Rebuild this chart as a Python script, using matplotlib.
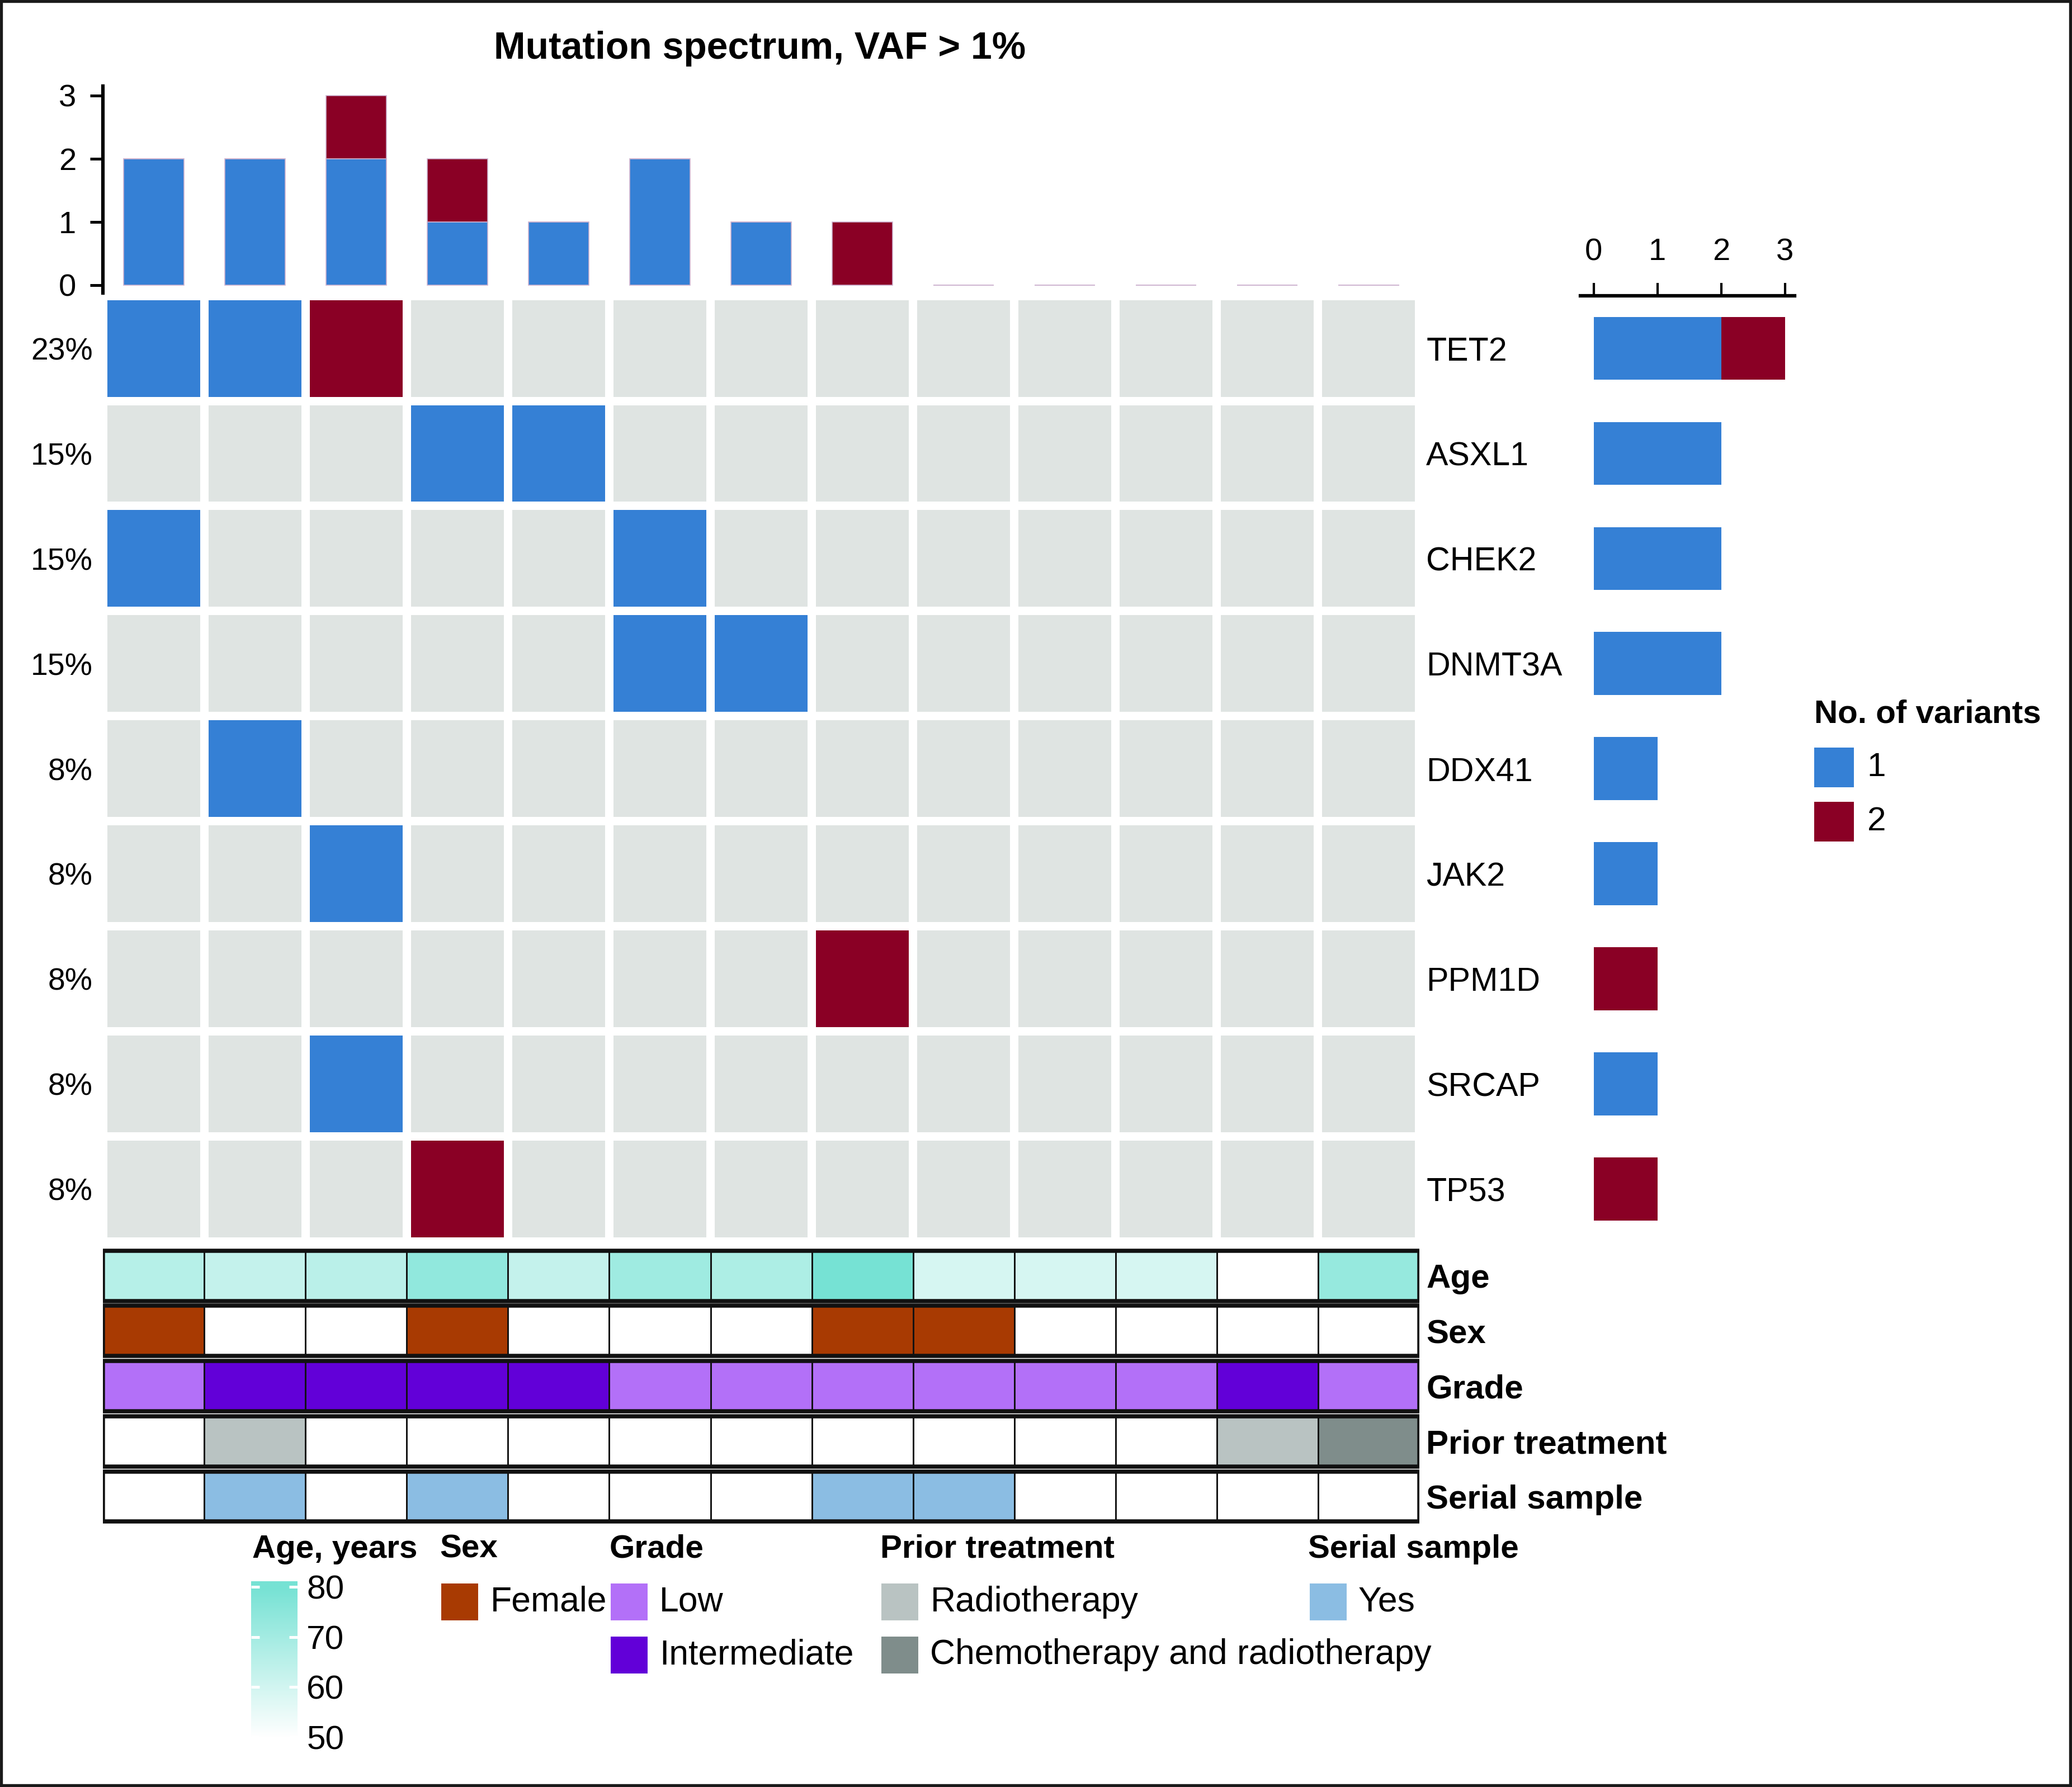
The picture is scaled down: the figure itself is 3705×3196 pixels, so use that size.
import matplotlib.pyplot as plt
import numpy as np
from matplotlib.colors import LinearSegmentedColormap, Normalize
from matplotlib.patches import Rectangle

plt.rcParams['font.family'] = ['Liberation Sans', 'DejaVu Sans']

# ---- data ----
genes = ['TET2', 'ASXL1', 'CHEK2', 'DNMT3A', 'DDX41', 'JAK2', 'PPM1D', 'SRCAP', 'TP53']
# 0 = no variant, 1 = one variant, 2 = two variants (one row per gene, one column per sample)
mutations = np.array([
    [1, 1, 2, 0, 0, 0, 0, 0, 0, 0, 0, 0, 0],
    [0, 0, 0, 1, 1, 0, 0, 0, 0, 0, 0, 0, 0],
    [1, 0, 0, 0, 0, 1, 0, 0, 0, 0, 0, 0, 0],
    [0, 0, 0, 0, 0, 1, 1, 0, 0, 0, 0, 0, 0],
    [0, 1, 0, 0, 0, 0, 0, 0, 0, 0, 0, 0, 0],
    [0, 0, 1, 0, 0, 0, 0, 0, 0, 0, 0, 0, 0],
    [0, 0, 0, 0, 0, 0, 0, 2, 0, 0, 0, 0, 0],
    [0, 0, 1, 0, 0, 0, 0, 0, 0, 0, 0, 0, 0],
    [0, 0, 0, 2, 0, 0, 0, 0, 0, 0, 0, 0, 0],
])
ages = [66, 63, 65, 74, 63, 71, 68, 80, 59, 59, 59, 50, 73]
sex = ['Female', 'Male', 'Male', 'Female', 'Male', 'Male', 'Male',
       'Female', 'Female', 'Male', 'Male', 'Male', 'Male']
grade = ['Low', 'Intermediate', 'Intermediate', 'Intermediate', 'Intermediate',
         'Low', 'Low', 'Low', 'Low', 'Low', 'Low', 'Intermediate', 'Low']
prior = ['None', 'Radiotherapy', 'None', 'None', 'None', 'None', 'None', 'None',
         'None', 'None', 'None', 'Radiotherapy', 'Chemotherapy and radiotherapy']
serial = ['No', 'Yes', 'No', 'Yes', 'No', 'No', 'No', 'Yes', 'Yes', 'No', 'No', 'No', 'No']
age_ticks = [50, 60, 70, 80]

# ---- colours ----
BLUE = '#3580d5'
RED = '#8a0025'
GREY = '#dfe4e2'
variant_colors = {0: GREY, 1: BLUE, 2: RED}
sex_colors = {'Female': '#a83a02', 'Male': 'white'}
grade_colors = {'Low': '#b370f8', 'Intermediate': '#6200d8'}
prior_colors = {'None': 'white', 'Radiotherapy': '#b9c3c2',
                'Chemotherapy and radiotherapy': '#7f8d8b'}
serial_colors = {'Yes': '#8bbde3', 'No': 'white'}
age_cmap = LinearSegmentedColormap.from_list('age', ['#ffffff', '#76e2d4'])
age_norm = Normalize(50, 80)

n_genes, n_samples = mutations.shape
blue_per_sample = (mutations == 1).sum(axis=0)
red_per_sample = (mutations == 2).sum(axis=0)
blue_per_gene = (mutations == 1).sum(axis=1)
red_per_gene = (mutations == 2).sum(axis=1)
pct = np.round(100 * (mutations > 0).sum(axis=1) / n_samples).astype(int)

# layout grid (reference coordinates)
W, H = 1568, 1353


def box(x0, y0, x1, y1):
    return [x0 / W, 1 - y1 / H, (x1 - x0) / W, (y1 - y0) / H]


def fx(x):
    return x / W


def fy(y):
    return 1 - y / H


fig = plt.figure(figsize=(3705 / 300, 3196 / 300), dpi=300)

fig.text(fx(575), fy(37), 'Mutation spectrum, VAF > 1%', ha='center', va='center',
         fontsize=16.3, weight='bold')

# ---- top bar chart ----
ax_top = fig.add_axes(box(78, 65, 1074, 222))
xs = np.arange(n_samples)
ax_top.bar(xs, blue_per_sample, width=0.6, color=BLUE, edgecolor='#cdb3cf', linewidth=0.4)
ax_top.bar(xs, red_per_sample, bottom=blue_per_sample, width=0.6, color=RED,
           edgecolor='#cdb3cf', linewidth=0.4)
ax_top.set_xlim(-0.5, n_samples - 0.5)
ax_top.set_ylim(-0.13, 3.15)
for s in ['top', 'right', 'bottom']:
    ax_top.spines[s].set_visible(False)
ax_top.spines['left'].set_linewidth(1.5)
ax_top.set_xticks([])
ax_top.set_yticks([0, 1, 2, 3])
ax_top.tick_params(axis='y', length=5.5, width=1.2, pad=6, labelsize=13.5)

# ---- oncoprint grid ----
ax_hm = fig.add_axes(box(78, 224, 1074, 940))
for i in range(n_genes):
    for j in range(n_samples):
        ax_hm.add_patch(Rectangle((j - 0.46, i - 0.46), 0.92, 0.92,
                                  color=variant_colors[mutations[i, j]], lw=0))
    ax_hm.annotate(f'{pct[i]}%', (0, i), xycoords=('axes fraction', 'data'),
                   xytext=(-4.5, -1.5), textcoords='offset points', ha='right', va='center',
                   fontsize=13.3)
    ax_hm.annotate(genes[i], (1, i), xycoords=('axes fraction', 'data'),
                   xytext=(3, -1.5), textcoords='offset points', ha='left', va='center',
                   fontsize=14.2)
ax_hm.set_xlim(-0.5, n_samples - 0.5)
ax_hm.set_ylim(n_genes - 0.5, -0.5)
ax_hm.axis('off')

# ---- right bar chart ----
ax_r = fig.add_axes(box(1196, 224, 1358, 940))
ys = np.arange(n_genes)
ax_r.barh(ys, blue_per_gene, height=0.6, color=BLUE)
ax_r.barh(ys, red_per_gene, left=blue_per_gene, height=0.6, color=RED)
ax_r.set_xlim(-0.21, 3.15)
ax_r.set_ylim(n_genes - 0.5, -0.5)
for s in ['bottom', 'right', 'left']:
    ax_r.spines[s].set_visible(False)
ax_r.spines['top'].set_linewidth(1.5)
ax_r.xaxis.tick_top()
ax_r.set_xticks([0, 1, 2, 3])
ax_r.set_yticks([])
ax_r.tick_params(axis='x', length=5.5, width=1.0, pad=7, labelsize=13.5)

fig.text(fx(1373), fy(541), 'No. of variants', ha='left', va='center',
         fontsize=14, weight='bold')
for k, (lab, col) in enumerate([('1', BLUE), ('2', RED)]):
    yc = 581 + 41 * k
    fig.add_artist(Rectangle((fx(1373), fy(yc + 15)), 30 / W, 30 / H,
                             transform=fig.transFigure, color=col, lw=0))
    fig.text(fx(1413), fy(yc), lab, ha='left', va='center', fontsize=14.5)

# ---- annotation tracks ----
tracks = [
    ('Age', [age_cmap(age_norm(a)) for a in ages]),
    ('Sex', [sex_colors[v] for v in sex]),
    ('Grade', [grade_colors[v] for v in grade]),
    ('Prior treatment', [prior_colors[v] for v in prior]),
    ('Serial sample', [serial_colors[v] for v in serial]),
]
ax_tr = fig.add_axes(box(78, 945, 1074, 1154))
for i, (name, cols) in enumerate(tracks):
    top = i + 0.045
    for j, c in enumerate(cols):
        ax_tr.add_patch(Rectangle((j - 0.5, top), 1, 0.91, facecolor=c,
                                  edgecolor='#111111', lw=0.7))
    ax_tr.add_patch(Rectangle((-0.5, top), n_samples, 0.91, fill=False,
                              edgecolor='#111111', lw=1.8))
    ax_tr.annotate(name, (1, i + 0.5), xycoords=('axes fraction', 'data'),
                   xytext=(3, -1.5), textcoords='offset points', ha='left', va='center',
                   fontsize=14.4, weight='bold')
ax_tr.set_xlim(-0.5, n_samples - 0.5)
ax_tr.set_ylim(len(tracks), 0)
ax_tr.axis('off')

# ---- legends ----
fig.text(fx(191), fy(1173), 'Age, years', ha='left', va='center', fontsize=14, weight='bold')
ax_cb = fig.add_axes(box(190, 1197, 225, 1321))
grad = np.linspace(48.5, 81.2, 256).reshape(-1, 1)
ax_cb.imshow(grad, cmap=age_cmap, norm=age_norm, aspect='auto', origin='lower',
             extent=[0, 1, 48.5, 81.2])
ax_cb.set_xticks([])
ax_cb.set_yticks(age_ticks)
ax_cb.tick_params(axis='y', left=True, right=True, labelleft=False, labelright=True,
                  direction='in', color='white', length=3.5, width=1.2, pad=4, labelsize=14.5)
for s in ax_cb.spines.values():
    s.set_visible(False)


def legend_block(x, title, items):
    fig.text(fx(x), fy(1173), title, ha='left', va='center', fontsize=14, weight='bold')
    for k, (lab, col) in enumerate(items):
        yc = 1213 + 40 * k
        fig.add_artist(Rectangle((fx(x + 1), fy(yc + 14)), 28 / W, 28 / H,
                                 transform=fig.transFigure, color=col, lw=0))
        fig.text(fx(x + 38), fy(yc), lab, ha='left', va='center', fontsize=15)


legend_block(333, 'Sex', [('Female', sex_colors['Female'])])
legend_block(461, 'Grade', [('Low', grade_colors['Low']),
                            ('Intermediate', grade_colors['Intermediate'])])
legend_block(666, 'Prior treatment', [('Radiotherapy', prior_colors['Radiotherapy']),
                                      ('Chemotherapy and radiotherapy',
                                       prior_colors['Chemotherapy and radiotherapy'])])
legend_block(990, 'Serial sample', [('Yes', serial_colors['Yes'])])

fig.add_artist(Rectangle((0, 0), 1, 1, transform=fig.transFigure, fill=False,
                         lw=2.5, ec='#1a1a1a'))

fig.savefig('out.png', dpi=300)
